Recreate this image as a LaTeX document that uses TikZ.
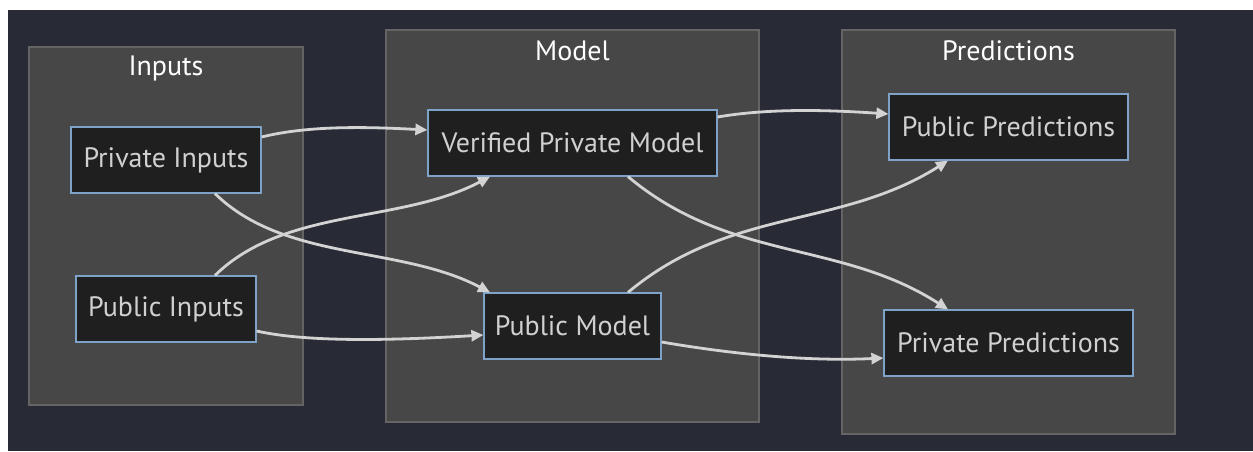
\documentclass[tikz,border=0pt]{standalone}
\usepackage{fontspec}
\setmainfont{PT Sans}
\usetikzlibrary{arrows.meta}
\definecolor{bgdark}{HTML}{282B36}
\definecolor{clusterfill}{HTML}{474747}
\definecolor{clusterline}{HTML}{646464}
\definecolor{boxfill}{HTML}{1F1F1F}
\definecolor{boxline}{HTML}{7FA2C8}
\definecolor{boxtext}{HTML}{D0D0D0}
\definecolor{linkcol}{HTML}{D3D3D3}

\begin{document}
\begin{tikzpicture}[x=1pt,y=-1pt]
    \providecommand{\titlefontsize}{\fontsize{28}{32}\selectfont}
    \providecommand{\nodefontsize}{\fontsize{28}{32}\selectfont}
    \tikzset{
        cluster/.style={draw=clusterline,fill=clusterfill,line width=1.2pt},
        clustertitle/.style={text=white,font=\titlefontsize,inner sep=0pt},
        box/.style={draw=boxline,fill=boxfill,line width=1.2pt,minimum height=66pt,inner sep=0pt,text=boxtext,font=\nodefontsize},
        link/.style={draw=linkcol,line width=2.8pt,-{Triangle[length=12pt,width=11pt]}}
    }
    % page and background
    \fill[white] (0,0) rectangle (1253,451);
    \fill[bgdark] (8,10) rectangle (1253,451);
    % subgraphs
    \draw[cluster] (29,47) rectangle (303,405);
    \draw[cluster] (386,30) rectangle (759,422);
    \draw[cluster] (842,30) rectangle (1175,434);
    \node[clustertitle] (inputstitle) at (166,68) {Inputs};
    \node[clustertitle] (modeltitle) at (572.5,51) {Model};
    \node[clustertitle] (predtitle) at (1008.5,51) {Predictions};
    % nodes
    \node[box,minimum width=190pt] (privin) at (166,160) {Private Inputs};
    \node[box,minimum width=180pt] (pubin) at (166,309) {Public Inputs};
    \node[box,minimum width=289pt] (vpmodel) at (572.5,143) {Verified Private Model};
    \node[box,minimum width=177pt] (pubmodel) at (572.5,326) {Public Model};
    \node[box,minimum width=239pt] (pubpred) at (1008.5,127) {Public Predictions};
    \node[box,minimum width=249pt] (privpred) at (1008.5,343) {Private Predictions};
    % links
    \draw[link] ([yshift=23pt]privin.east) .. controls (310,125) and (370,127) .. ([yshift=13pt]vpmodel.west);
    \draw[link] ([xshift=49pt]privin.south) .. controls (285,262) and (400,245) .. ([xshift=-82.5pt]pubmodel.north);
    \draw[link] ([xshift=49pt]pubin.north) .. controls (285,207) and (400,224) .. ([xshift=-82.5pt]vpmodel.south);
    \draw[link] ([yshift=-22pt]pubin.east) .. controls (310,343) and (400,340) .. ([yshift=-9pt]pubmodel.west);
    \draw[link] ([yshift=26pt]vpmodel.east) .. controls (770,108) and (830,110) .. ([yshift=13pt]pubpred.west);
    \draw[link] ([xshift=55.5pt]vpmodel.south) .. controls (730,262) and (840,240) .. ([xshift=-60.5pt]privpred.north);
    \draw[link] ([xshift=55.5pt]pubmodel.north) .. controls (730,207) and (840,229) .. ([xshift=-60.5pt]pubpred.south);
    \draw[link] ([yshift=-16pt]pubmodel.east) .. controls (720,352) and (800,362) .. ([yshift=-15pt]privpred.west);
\end{tikzpicture}
\end{document}
